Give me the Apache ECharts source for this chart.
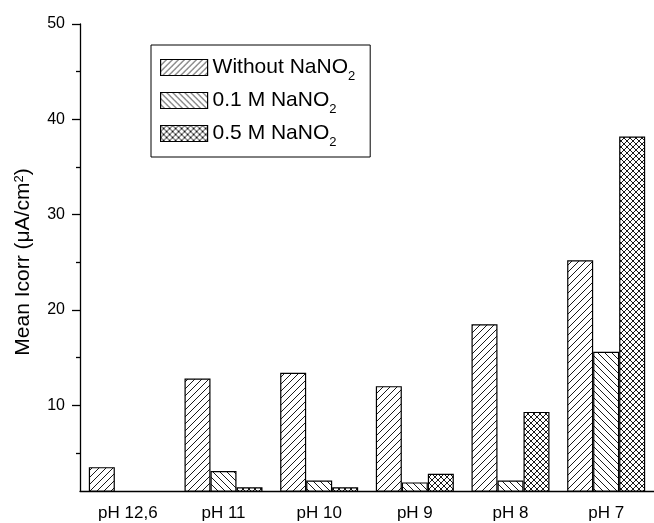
<!DOCTYPE html>
<html>
<head>
<meta charset="utf-8">
<script src="https://cdn.jsdelivr.net/npm/echarts@6/dist/echarts.min.js"></script>
<style>html,body{margin:0;padding:0;background:#fff}#c{width:654px;height:523px}</style>
</head>
<body>
<div id="c"></div>
<script>
const categories = ['pH 12,6', 'pH 11', 'pH 10', 'pH 9', 'pH 8', 'pH 7'];
const withoutNaNO2 = [3.5, 12.8, 13.4, 12.0, 18.5, 25.2];
const nano2Low = [null, 3.1, 2.1, 1.9, 2.1, 15.6];
const nano2High = [null, 1.4, 1.4, 2.8, 9.3, 38.2];
const seriesNames = ['Without NaNO2', '0.1 M NaNO2', '0.5 M NaNO2'];
const yMajorTicks = [10, 20, 30, 40, 50];
const yMinorTicks = [5, 15, 25, 35, 45];

const FONT = 'Liberation Sans, Arial, sans-serif';

function makePattern(kind, s) {
  const c = document.createElement('canvas');
  c.width = s; c.height = s;
  const g = c.getContext('2d');
  g.fillStyle = '#fff';
  g.fillRect(0, 0, s, s);
  g.strokeStyle = '#1a1a1a';
  g.lineWidth = 1;
  function fwd() { // "/"
    g.beginPath();
    g.moveTo(-1, s + 1); g.lineTo(s + 1, -1);
    g.moveTo(-1, 1); g.lineTo(1, -1);
    g.moveTo(s - 1, s + 1); g.lineTo(s + 1, s - 1);
    g.stroke();
  }
  function back() { // "\"
    g.beginPath();
    g.moveTo(-1, -1); g.lineTo(s + 1, s + 1);
    g.moveTo(s - 1, -1); g.lineTo(s + 1, 1);
    g.moveTo(-1, s - 1); g.lineTo(1, s + 1);
    g.stroke();
  }
  if (kind === 'fwd') fwd();
  else if (kind === 'back') back();
  else { fwd(); back(); }
  return { image: c, repeat: 'repeat' };
}

const patterns = [makePattern('fwd', 7), makePattern('back', 7), makePattern('cross', 6)];
const legendPatterns = [makePattern('fwd', 6), makePattern('back', 6), makePattern('cross', 6)];
const dataSets = [withoutNaNO2, nano2Low, nano2High];

function legendLabel(name) {
  return '{n|' + name.replace('NaNO2', 'NaNO') + '}{sub|2}';
}

const chart = echarts.init(document.getElementById('c'));
chart.setOption({
  animation: false,
  backgroundColor: '#fff',
  grid: { left: 80, right: -2, top: 24, bottom: 32 },
  legend: {
    orient: 'vertical',
    left: 151, top: 45,
    padding: [12, 15, 8, 9],
    itemGap: 7,
    icon: 'rect',
    itemWidth: 47, itemHeight: 16,
    borderColor: '#000', borderWidth: 1,
    data: seriesNames.map((name, i) => ({
      name: name,
      itemStyle: { color: legendPatterns[i], borderColor: '#000', borderWidth: 1.2 }
    })),
    formatter: legendLabel,
    textStyle: {
      color: '#000', fontFamily: FONT, fontSize: 21,
      rich: {
        n: { fontSize: 21, fontFamily: FONT, color: '#000', lineHeight: 31, verticalAlign: 'middle' },
        sub: { fontSize: 13, fontFamily: FONT, color: '#000', lineHeight: 13, verticalAlign: 'bottom' }
      }
    }
  },
  xAxis: [{
    type: 'category',
    data: categories,
    axisLine: { lineStyle: { color: '#000', width: 1.3 } },
    axisTick: { alignWithLabel: true, length: 8, lineStyle: { color: '#000', width: 1.3 } },
    axisLabel: { color: '#000', fontFamily: FONT, fontSize: 17, margin: 14 }
  }, {
    type: 'category',
    data: categories,
    position: 'bottom',
    axisLine: { show: false },
    axisTick: { length: 4, lineStyle: { color: '#000', width: 1.3 } },
    axisLabel: { show: false }
  }],
  yAxis: [{
    type: 'value',
    min: 1, max: 50,
    name: '{n|Mean Icorr (μA/cm}{sup|2}{n|)}',
    nameLocation: 'middle',
    nameGap: 46,
    nameTextStyle: {
      color: '#000', fontFamily: FONT, fontSize: 21,
      padding: [0, 9, 0, 0],
      rich: {
        n: { fontSize: 21, fontFamily: FONT, color: '#000', lineHeight: 21, verticalAlign: 'middle' },
        sup: { fontSize: 13, fontFamily: FONT, color: '#000', lineHeight: 13, verticalAlign: 'top' }
      }
    },
    splitLine: { show: false },
    axisLine: { show: true, lineStyle: { color: '#000', width: 1.3 } },
    axisTick: { show: true, length: 8, customValues: yMajorTicks, lineStyle: { color: '#000', width: 1.3 } },
    axisLabel: { color: '#000', fontFamily: FONT, fontSize: 16, margin: 15, customValues: yMajorTicks }
  }, {
    type: 'value',
    min: 1, max: 50,
    position: 'left',
    splitLine: { show: false },
    axisLine: { show: false },
    axisTick: { show: true, length: 4, customValues: yMinorTicks, lineStyle: { color: '#000', width: 1.3 } },
    axisLabel: { show: false }
  }],
  series: seriesNames.map((name, i) => ({
    name: name,
    type: 'bar',
    xAxisIndex: 0,
    yAxisIndex: 0,
    barWidth: 26,
    barGap: '0%',
    data: dataSets[i],
    itemStyle: { color: patterns[i], borderColor: '#000', borderWidth: 1.2 }
  }))
});
</script>
</body>
</html>
